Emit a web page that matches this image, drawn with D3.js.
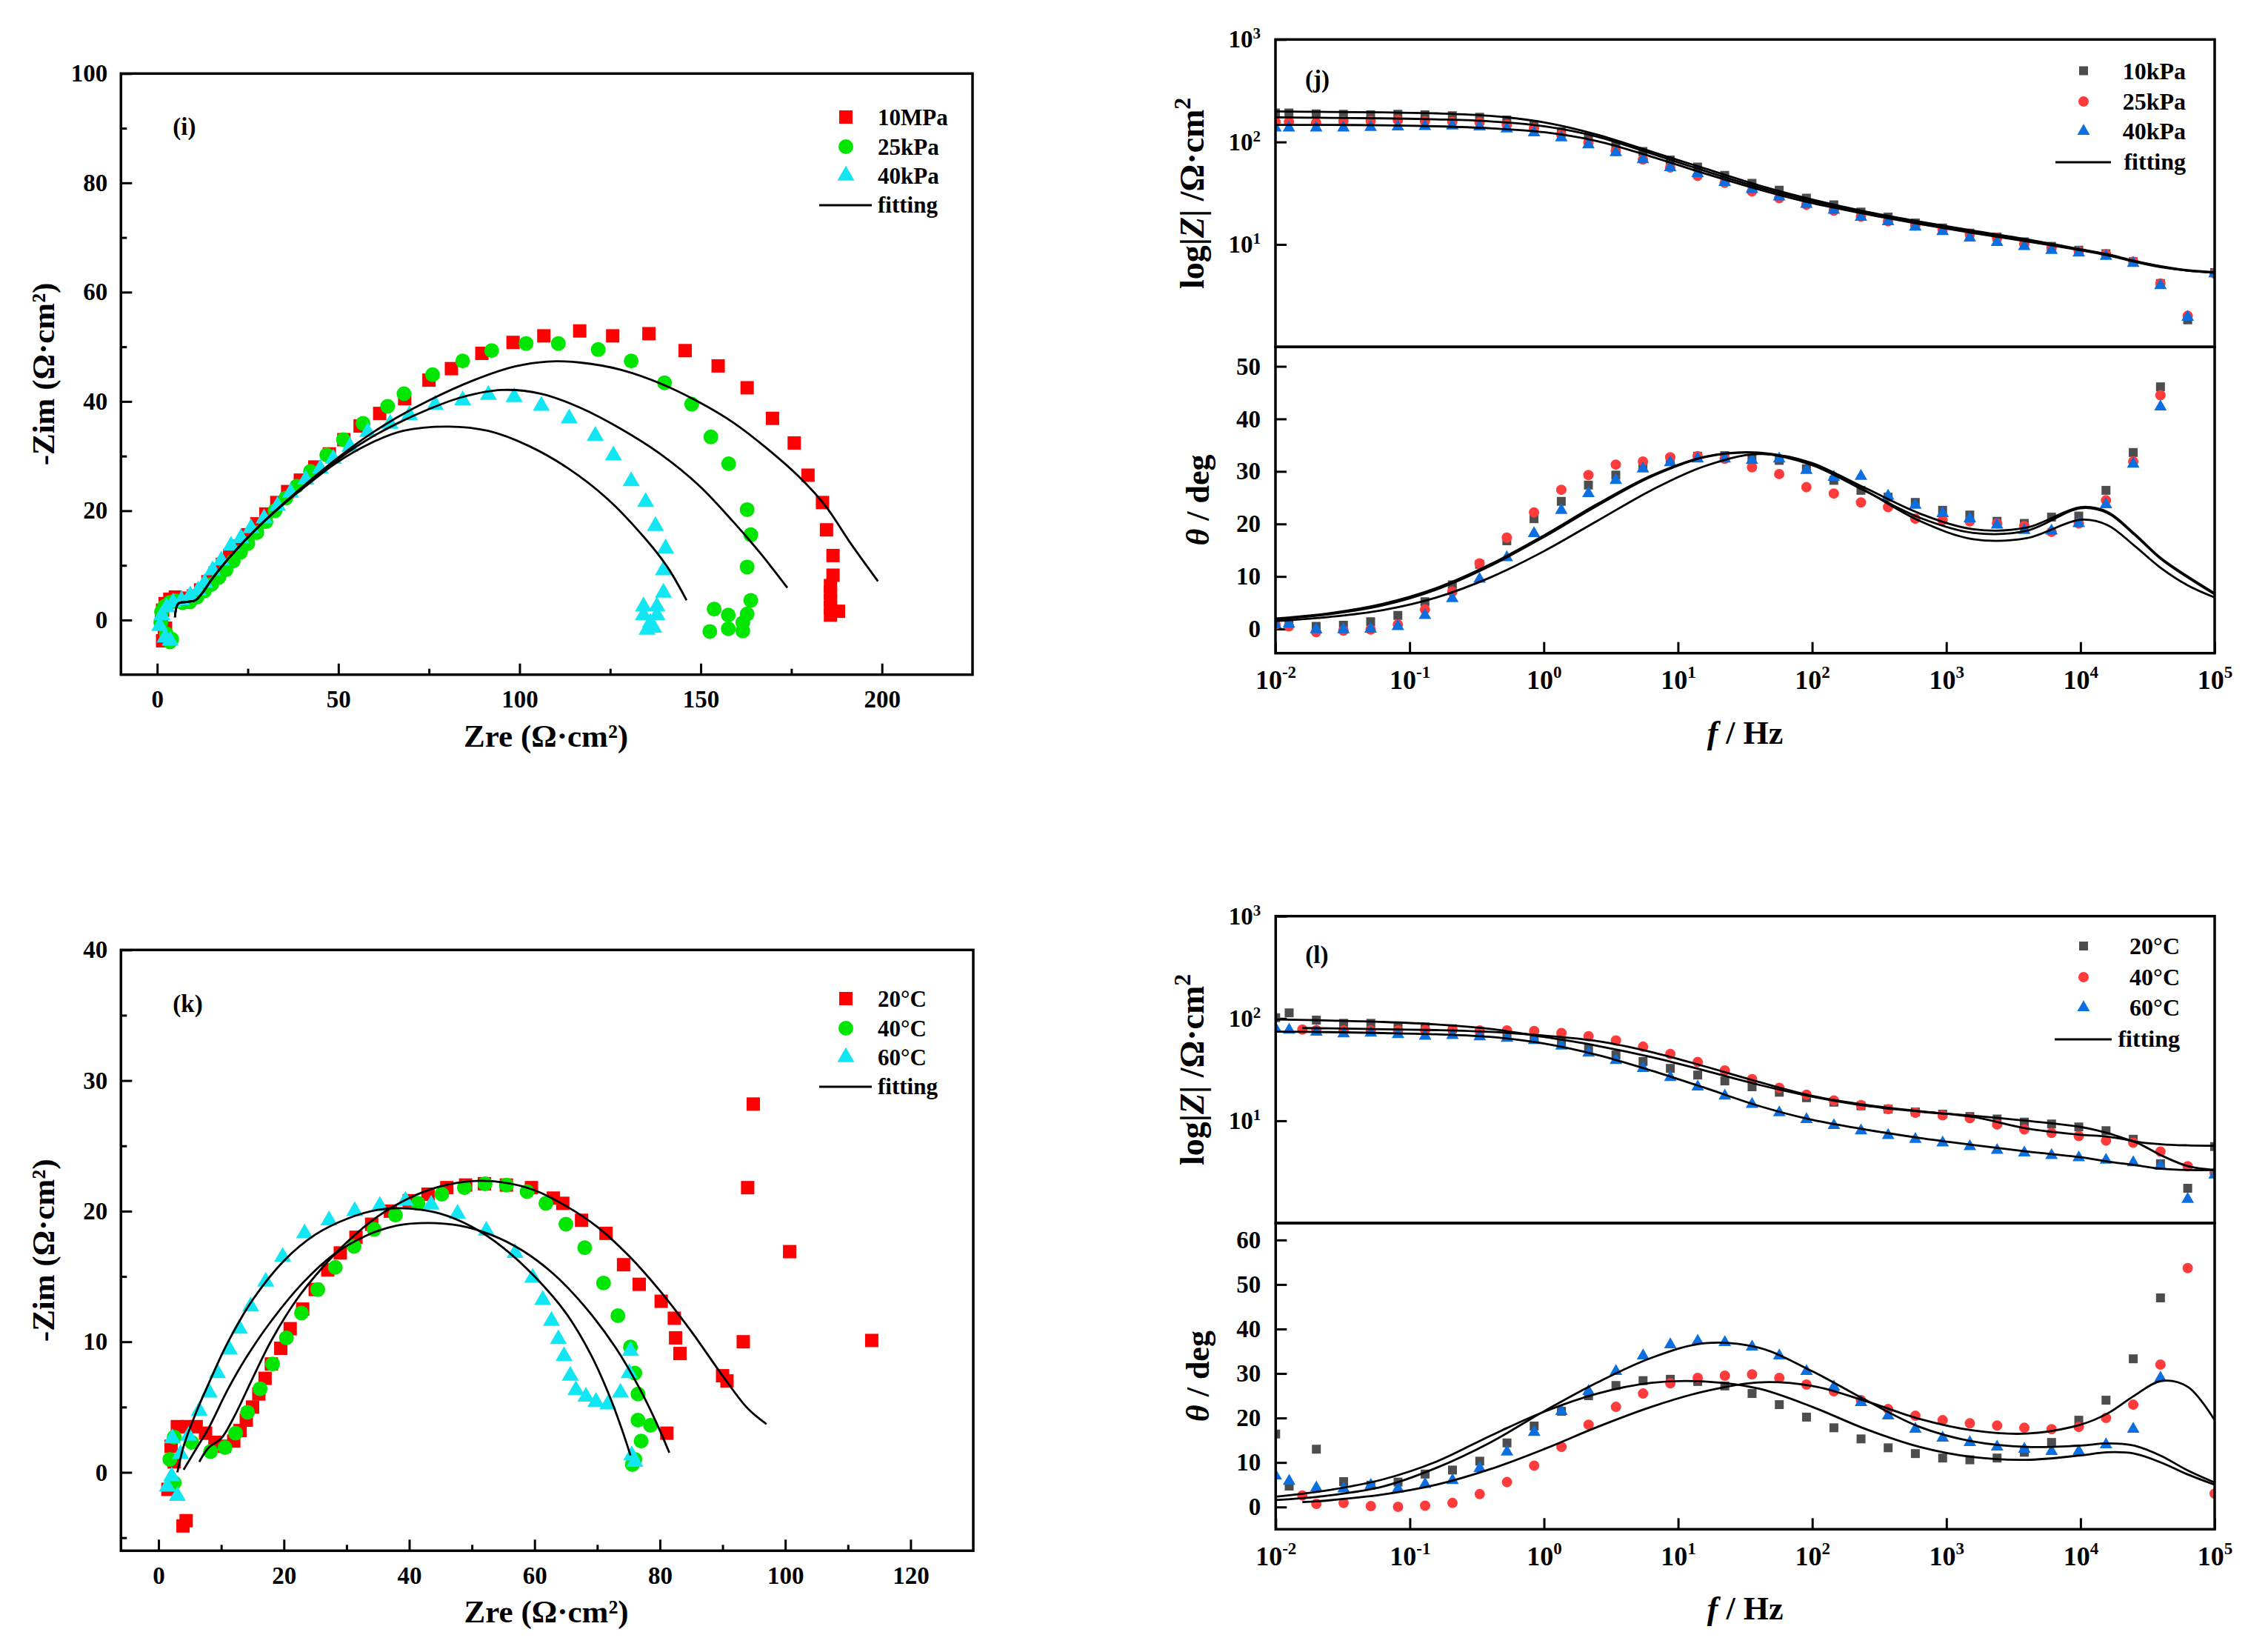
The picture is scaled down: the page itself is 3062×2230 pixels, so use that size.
<!DOCTYPE html>
<html>
<head>
<meta charset="utf-8">
<script src="https://d3js.org/d3.v7.min.js"></script>
<style>
    body { margin: 0; background: #fff; }
    svg { display: block; }
    text { font-family: "Liberation Serif", "Times New Roman", serif; font-weight: bold; fill: #000; }
</style>
</head>
<body>
<svg id="fig" width="3062" height="2230"></svg>
<script>
// ---------- (i) Nyquist, pressure : [Zre, -Zim] ----------
const iNames = ["10MPa", "25kPa", "40kPa"];
const i10MPa = [[1.5,-3.8],[2.0,-3.0],[2.3,-1.5],[1.2,0.2],[1.5,1.8],[2.2,3.0],[3.5,3.8],[5,4.2],[6.5,4.0],[8,3.8],[10,4.4],[12,5.5],[14,7],[16,8.6],[18,10.2],[20,11.8],[22.5,13.5],[25,15.6],[27.5,17.6],[30,19.4],[33,21.5],[36,23.5],[39.5,25.6],[43.5,28],[47.5,30.4],[51.5,33],[56,35.5],[61.4,37.8],[68.3,40.5],[75,43.9],[81.2,46],[89.6,48.8],[98.2,50.8],[106.7,52],[116.6,52.9],[125.7,52],[135.7,52.4],[145.7,49.3],[154.8,46.5],[162.8,42.5],[169.8,36.9],[175.8,32.4],[179.6,26.5],[183.6,21.5],[184.7,16.5],[186.5,11.8],[186.5,8.2],[185.8,6.3],[185.8,5.0],[185.8,3.6],[185.8,2.3],[185.8,0.9],[188,1.6]];
const i25kPa = [[1.0,-0.5],[1.2,1.5],[2.5,-2.5],[3.5,-4],[4,-3.5],[2.0,2.5],[3.5,3.2],[5,3.5],[7,3.2],[9,3.3],[11,4.2],[13,5.3],[15,6.5],[17,7.8],[19,9.2],[21,10.8],[23,12.4],[25,14],[27.5,16],[30,18],[32.5,20],[35.5,22.3],[38.5,24.5],[42.3,27.2],[46.8,30.2],[51.4,33],[56.8,36],[63.6,39.1],[68.1,41.4],[76,44.9],[84.3,47.4],[92.3,49.3],[101.8,50.6],[110.7,50.6],[121.7,49.5],[130.8,47.4],[140,43.4],[147.5,39.5],[152.8,33.5],[157.7,28.6],[162.8,20.2],[163.8,15.6],[162.8,9.7],[163.8,3.6],[162.8,1.1],[161.6,-0.5],[161.6,-2.0],[157.6,-1.6],[157.6,0.9],[153.7,2.0],[152.5,-2.1]];
const i40kPa = [[0.7,-1.1],[2.2,-3.2],[3.6,-3.8],[1.3,0.9],[2.6,2.3],[4.4,3.2],[6.7,3.6],[9.1,4.5],[11.3,5.4],[13.1,6.8],[15.3,9.1],[17.7,10.9],[20.4,13.6],[23.1,15.0],[25.9,16.8],[29.5,18.6],[33.2,20.9],[36.8,23.3],[41,25.7],[45,27.7],[48.6,29.5],[53.2,31.7],[58.1,34.4],[64.3,35.9],[69.6,37.5],[76.7,39.4],[84.3,40.2],[91.4,41.2],[98.5,40.8],[106,39.2],[113.7,36.9],[120.9,33.7],[125.9,30.1],[130.8,25.4],[134.8,21.6],[137.5,17.2],[140.3,13.1],[139.7,9.1],[139.7,5],[137.9,2.5],[134.2,2.5],[134.2,0.9],[137.9,0.9],[136.1,-0.5],[135.2,-1.8],[137,-1.4]];
const iFit10MPa = [[4.9,0.5],[5.8,3.0],[8,3.3],[10.5,3.6],[12.5,5.0],[15,7.4],[20.4,11.8],[27.7,16.9],[35,21.4],[42.3,25.6],[49.5,29.5],[57,33.2],[66,37.0],[75,40.2],[87.8,44.0],[98.7,46.4],[107.8,47.3],[116.9,47.1],[127.9,45.8],[138.8,43.3],[149.7,39.8],[158.8,36.2],[167.9,31.6],[177,26.3],[184.3,21.0],[191.6,13.8],[198.9,7.1]];
const iFit25kPa = [[4.9,0.5],[5.8,3.0],[8,3.3],[10.5,3.6],[12.5,5.0],[15,7.4],[20.4,11.8],[27.7,16.9],[35,21.4],[42.3,25.4],[49.5,29.2],[57,32.6],[66,35.9],[75,38.6],[84.2,40.8],[95.1,42.1],[106,41.4],[116.9,38.8],[127.9,35.0],[138.8,30.4],[149.7,24.5],[158.8,18.1],[166.1,12.5],[173.9,5.9]];
const iFit40kPa = [[4.9,0.5],[5.8,3.0],[8,3.3],[10.5,3.6],[12.5,5.0],[15,7.4],[20.4,11.8],[27.7,16.9],[35,21.3],[42.3,25.2],[49.5,28.8],[58.7,32.3],[67.8,34.6],[80.5,35.4],[91.4,34.6],[102.4,31.9],[113.3,27.8],[124.2,22.2],[135.2,14.5],[141,9.5],[146.1,3.6]];
const iXTicks = [0, 50, 100, 150, 200], iXMinor = [25, 75, 125, 175];
const iYTicks = [0, 20, 40, 60, 80, 100], iYMinor = [10, 30, 50, 70, 90];

// ---------- (k) Nyquist, temperature : [Zre, -Zim] ----------
const kNames = ["20°C", "40°C", "60°C"];
const k20 = [[2,2],[2.5,0.8],[1.5,-1.3],[4.4,-3.7],[3.9,-4.1],[3,3.5],[4.5,3.5],[6,3.5],[7.5,3],[9,2.3],[10.5,2],[12,2.4],[13,3.2],[14,4],[15,5],[16,6],[17,7.2],[18,8.3],[19.5,9.5],[21,11],[23,12.5],[25,14],[27,15.5],[29,16.8],[31.5,18],[34,19],[37,20],[40,20.8],[43,21.3],[46,21.8],[49,22],[52,22.1],[55.5,22],[59.5,21.8],[63,21],[64.5,20.6],[67.5,19.3],[71.4,18.3],[74.2,15.9],[76.7,14.4],[80.2,13.1],[82.3,11.8],[82.5,10.3],[83.2,9.1],[81.1,3.0],[90,7.4],[90.7,7.0],[93.3,10.0],[94.0,21.8],[94.9,28.2],[100.7,16.9],[113.8,10.1]];
const k40 = [[2.5,-0.8],[1.8,1.0],[2.5,2.7],[5.3,2.3],[8.3,1.6],[10.6,1.9],[12.3,3.0],[14.2,4.6],[16.2,6.4],[18.2,8.3],[20.4,10.3],[22.8,12.2],[25.4,14.0],[28.2,15.7],[31.2,17.3],[34.4,18.6],[37.8,19.7],[41.4,20.6],[45.2,21.3],[48.8,21.8],[52.1,22.1],[55.5,22.0],[58.8,21.5],[61.8,20.6],[65,19],[68,17.2],[71,14.5],[73.3,12],[75.3,9.6],[76,7.6],[76.5,6],[76.5,4],[77,2.4],[75.6,0.6],[76,1],[78.5,3.6]];
const k60 = [[2.1,-0.3],[1.4,-1.1],[3.0,-1.8],[2.2,2.6],[3.5,1.4],[4.8,2.8],[6.5,4.7],[8.1,6.1],[9.4,7.6],[11.3,9.4],[12.9,11],[14.7,12.7],[17.1,14.6],[19.8,16.5],[23.3,18.3],[27.2,19.3],[31.3,20],[35.3,20.4],[39.4,20.8],[43.5,20.5],[47.7,19.8],[52.3,18.5],[56.9,16.8],[59.7,14.9],[61.3,13.2],[62.7,11.6],[63.8,10.2],[64.7,8.9],[65.7,7.4],[66.6,6.3],[68.2,5.8],[69.8,5.4],[71.7,5.2],[73.7,6.1],[75.1,7.6],[75.3,9.3],[76,0.8],[75.5,1.3]];
const kFit20 = [[6.5,0.8],[8,1.9],[10,2.6],[12,4.2],[15,7.2],[18,10.1],[22,13.2],[26,15.6],[30,17.6],[35,19.6],[40,21],[45,21.9],[50,22.3],[55,22.2],[60,21.6],[65,20.4],[70,18.8],[75,16.6],[80,13.9],[85,10.8],[90,7.4],[94,4.9],[97,3.7]];
const kFit40 = [[4,0.2],[6,1.8],[8,3.4],[11,6.3],[14,8.8],[18,11.6],[23,14.5],[28,16.7],[33,18.1],[38,18.9],[43,19.1],[48,18.9],[53,18.2],[58,17.0],[63,15.2],[68,12.7],[73,9.5],[77,6.2],[80,3.2],[81.5,1.5]];
const kFit60 = [[3,0],[4,2],[6,4.6],[8,6.8],[11,9.9],[15,13.2],[20,16.2],[25,18.2],[30,19.4],[35,20.1],[40,20.2],[45,19.8],[50,18.8],[55,17.2],[60,15.0],[65,12.2],[69,9.0],[72,5.8],[74,3.2],[75.3,1.3]];
const kXTicks = [0, 20, 40, 60, 80, 100, 120], kXMinor = [10, 30, 50, 70, 90, 110];
const kYTicks = [0, 10, 20, 30, 40], kYMinor = [-5, 5, 15, 25, 35];

// ---------- (j) Bode, pressure ----------
const jNames = ["10kPa", "25kPa", "40kPa"];
const jFreq = [0.01, 0.0126, 0.0201, 0.0321, 0.0512, 0.0817, 0.130, 0.208, 0.332, 0.530, 0.845, 1.35, 2.15, 3.44, 5.48, 8.75, 14.0, 22.3, 35.6, 56.8, 90.6, 145, 231, 368, 587, 938, 1496, 2388, 3811, 6081, 9705, 15488, 24717, 39446, 62951, 100000];
const jZ10 = [192, 192, 188, 186, 184, 186, 184, 180, 174, 164, 147, 126, 111, 92, 80.6, 66.6, 57, 47.2, 39.5, 33.8, 28.3, 24.4, 20.7, 18.5, 16.2, 14.5, 12.9, 11.8, 10.6, 9.59, 8.77, 8.11, 6.79, 4.16, 1.84, 5.31];
const jZ25 = [157, 157, 154, 159, 161, 163, 159, 157, 155, 147, 136, 118, 98.4, 81.5, 67.4, 56.4, 46.7, 39.9, 33.0, 28.3, 24.4, 21.4, 18.7, 16.9, 15.3, 14.0, 12.7, 11.6, 10.1, 9.17, 8.58, 8.02, 6.79, 4.16, 2.01, 5.19];
const jZ40 = [137.5, 137.5, 137.5, 137.5, 139, 140.6, 142.2, 143.8, 140.6, 134.5, 123, 110, 94.2, 78.8, 67.4, 56.4, 49.3, 40.4, 34.5, 29.2, 24.7, 21.6, 18.5, 16.7, 14.8, 13.4, 11.6, 10.5, 9.59, 8.77, 8.29, 7.67, 6.56, 3.97, 1.95, 5.19];
const jTh10 = [1.0, 1.1, 0.5, 0.7, 1.4, 2.6, 5.2, 8.4, 12.3, 16.8, 21.0, 24.3, 27.4, 29.3, 31.2, 32.4, 32.9, 33.0, 32.4, 32.1, 30.5, 28.3, 26.4, 25.1, 24.1, 22.6, 21.7, 20.5, 20.1, 21.3, 21.5, 26.4, 33.6, 46.1, null, null];
const jTh25 = [0.85, 0.5, -0.6, -0.3, -0.1, 0.85, 3.7, 7.1, 12.5, 17.4, 22.2, 26.5, 29.3, 31.3, 31.9, 32.7, 32.9, 32.4, 30.8, 29.5, 27.0, 25.8, 24.1, 23.2, 21.0, 20.7, 20.5, 20.1, 19.6, 18.5, 20.1, 24.5, 31.9, 44.5, null, null];
const jTh40 = [0.85, 0.95, -0.1, -0.1, 0, 0.5, 2.6, 5.8, 9.5, 13.6, 18.2, 22.6, 25.8, 28.3, 30.5, 31.7, 32.4, 32.4, 32.1, 32.4, 30.2, 28.9, 29.1, 25.3, 23.6, 22.0, 21.0, 19.8, 18.8, 18.7, 20.1, 23.7, 31.4, 42.3, null, null];
const fitFreq = [0.01, 0.0251, 0.0631, 0.158, 0.398, 1, 2.51, 6.31, 15.8, 39.8, 100, 251, 631, 1585, 3981, 10000, 15849, 25119, 39811, 63096, 100000];
const jFitZ10 = [198.6, 196.4, 194.4, 190.2, 179.8, 155.6, 117.8, 80.6, 55.2, 37.8, 27.4, 20.9, 16.7, 13.6, 11.2, 8.97, 8.02, 6.93, 6.14, 5.61, 5.37];
const jFitZ25 = [173.9, 171.9, 170, 166.2, 159.0, 142.2, 112.5, 77.1, 52.2, 36.1, 26.4, 20.5, 16.4, 13.2, 11.0, 8.87, 7.93, 6.86, 6.07, 5.55, 5.31];
const jFitZ40 = [146.8, 146.8, 145.4, 142.2, 136, 124.5, 101.8, 72.1, 49.3, 34.5, 25.3, 19.8, 15.8, 12.9, 10.7, 8.77, 7.84, 6.79, 6.0, 5.55, 5.31];
const jFitTh10 = [2.0, 3.0, 4.8, 7.8, 12.3, 17.8, 23.8, 29.2, 32.8, 33.6, 31.5, 26.8, 22.0, 19.0, 19.3, 23.2, 22.3, 18.2, 13.5, 10.0, 6.8];
const jFitTh25 = [1.8, 2.8, 4.5, 7.5, 12.0, 17.5, 23.5, 29.0, 32.7, 33.5, 31.2, 26.2, 21.2, 18.3, 18.7, 23.0, 22.1, 18.0, 13.3, 9.8, 6.6];
const jFitTh40 = [1.5, 2.3, 3.6, 6.0, 9.8, 14.8, 20.6, 26.4, 31.0, 33.3, 31.6, 26.3, 20.6, 17.1, 17.3, 20.8, 19.8, 15.9, 11.6, 8.3, 6.0];
const jThTicks = [0, 10, 20, 30, 40, 50];

// ---------- (l) Bode, temperature ----------
const lNames = ["20°C", "40°C", "60°C"];
const lFreq = jFreq;
const lFreq40 = [0.0158, 0.0201, 0.0321, 0.0512, 0.0817, 0.130, 0.208, 0.332, 0.530, 0.845, 1.35, 2.15, 3.44, 5.48, 8.75, 14.0, 22.3, 35.6, 56.8, 90.6, 145, 231, 368, 587, 938, 1496, 2388, 3811, 6081, 9705, 15488, 24717, 39446, 62951, 100000];
const lZ20 = [101.7, 113.5, 96.2, 89.6, 89.6, 83.8, 82.4, 79.3, 75.0, 71.0, 65.3, 59, 51, 44, 38, 32.5, 28, 24.5, 21.5, 19, 16.8, 15.2, 14, 13, 12.2, 11.6, 11.0, 10.4, 9.7, 9.3, 8.7, 8.0, 6.6, 3.8, 2.19, 5.6];
const lZ40 = [78, 77.1, 76.3, 76.3, 76.3, 77.1, 78, 76.3, 76.3, 75.5, 72, 67, 61, 53, 45, 37.5, 31, 25.5, 21, 18, 15.8, 14.2, 13, 12, 11.3, 10.6, 9.2, 8.24, 7.6, 7.1, 6.4, 6.1, 5.0, 3.6, 3.1];
const lZ60 = [79.3, 77.1, 73.8, 71.0, 72.2, 69.8, 67.2, 68.3, 66.5, 64.3, 61.2, 54, 46, 39, 32.5, 26.5, 21.5, 17.5, 14.5, 12, 10.3, 9.0, 8.0, 7.2, 6.6, 6.1, 5.6, 5.15, 4.87, 4.6, 4.36, 4.13, 3.9, 3.6, 1.71, 2.96];
const lTh20 = [16.4, 4.7, 13.0, 5.7, 4.9, 5.6, 7.4, 8.3, 10.3, 14.4, 18.2, 21.5, 25, 27.3, 28.4, 28.7, 28.2, 27.2, 25.5, 23, 20.2, 17.8, 15.3, 13.3, 12, 11, 10.6, 11, 12.3, 14.5, 19.5, 24, 33.3, 47, null, null];
const lTh40 = [2.6, 0.7, 0.9, 0.2, 0.05, 0.3, 0.9, 2.9, 5.6, 9.3, 13.5, 18.5, 22.5, 25.5, 27.8, 29, 29.5, 29.8, 29, 27.5, 26, 24, 22, 20.5, 19.5, 18.8, 18.3, 17.8, 17.5, 18, 20, 23, 32, 53.7, 3];
const lTh60 = [7.0, 5.8, 4.3, 4.1, 4.9, 4.1, 5.1, 6.0, 8.7, 12.4, 16.8, 21.5, 26, 30.5, 34, 36.5, 37.3, 37, 36, 34, 30.5, 27, 23.5, 20.5, 17.5, 15.5, 14.5, 13.5, 13, 12.5, 12.5, 14, 17.5, 29, null, null];
const fitFreq40 = [0.0158, 0.0251, 0.0631, 0.158, 0.398, 1, 2.51, 6.31, 15.8, 39.8, 100, 251, 631, 1585, 3981, 10000, 15849, 25119, 39811, 63096, 100000];
const lFitZ20 = [97.8, 95.5, 92.5, 87.5, 79, 66, 54, 42, 31, 22.5, 17.2, 14, 12.3, 11.2, 10.0, 8.7, 7.6, 6.3, 5.9, 5.75, 5.7];
const lFitZ40 = [80.6, 80, 78.5, 77, 74, 68, 60, 47, 34, 24, 17.5, 14.3, 12.4, 10.9, 8.4, 7.3, 7.0, 6.25, 4.6, 3.6, 3.3];
const lFitZ60 = [74.3, 73.5, 72, 70, 66, 57, 44, 31, 21, 14, 10.2, 8.2, 6.8, 5.8, 5.0, 4.4, 4.0, 3.7, 3.4, 3.3, 3.3];
const lFitTh20 = [2.3, 3.8, 6.2, 10.2, 16.0, 21.4, 25.5, 27.9, 28.2, 26.6, 22.5, 17.5, 13.5, 11.2, 10.6, 11.6, 12.3, 12.0, 10.0, 7.3, 5.0];
const lFitTh40 = [1.1, 1.5, 2.8, 5.0, 8.5, 13.0, 18.0, 22.5, 26.0, 28.0, 27.2, 23.8, 19.8, 17.2, 16.5, 18.5, 21.0, 25.0, 28.3, 27.0, 19.5];
const lFitTh60 = [1.55, 2.6, 4.6, 8.8, 14.5, 21.5, 28, 33.5, 36.8, 35.8, 30.5, 24.0, 18.0, 14.7, 13.5, 13.8, 14.3, 13.8, 11.5, 8.2, 5.5];
const lThTicks = [0, 10, 20, 30, 40, 50, 60];

const decades = [1e-2, 1e-1, 1e0, 1e1, 1e2, 1e3, 1e4, 1e5];
const zTicks = [10, 100, 1000];

// ---------- drawing ----------
const svg = d3.select("#fig");
const RED = "#ff0000", GREEN = "#00e600", CYAN = "#12e6f2";
const GRAY = "#4d4d4d", PINK = "#ff3b3b", BLUE = "#0b6fe0";
const bigSym = {sq: 324, ci: 314, tr: 230};
const smallSym = {sq: 144, ci: 154, tr: 125};

function tidy(g, fs) {
    g.select(".domain").remove();
    g.selectAll(".tick line").attr("stroke", "#000").attr("stroke-width", 3);
    g.selectAll(".tick text").style("font-size", (fs || 33) + "px");
}

function powLabels(g, sup, shift) {
    g.selectAll(".tick text").each(function(d) {
        const t = d3.select(this).text(null);
        t.append("tspan").text("10");
        t.append("tspan").attr("dy", -shift).style("font-size", sup + "px").text(Math.round(Math.log10(d)));
    });
}

function dots(g, pts, x, y, shape, size, color) {
    g.append("g").selectAll("path").data(pts).enter().append("path")
        .attr("transform", d => `translate(${x(d[0])},${y(d[1])})`)
        .attr("d", d3.symbol().type(shape).size(size))
        .attr("fill", color);
}

function fitPath(g, pts, x, y) {
    const line = d3.line().x(d => x(d[0])).y(d => y(d[1])).curve(d3.curveCatmullRom.alpha(0.5));
    g.append("path").attr("d", line(pts)).attr("fill", "none")
        .attr("stroke", "#000").attr("stroke-width", 2.8);
}

const zip = (f, v) => f.map((d, i) => [d, v[i]]).filter(d => d[1] != null);

function nyquist(p) {
    const g = svg.append("g").attr("transform", `translate(${p.x},${p.y})`);
    const x = d3.scaleLinear().domain(p.xd).range([0, p.w]);
    const y = d3.scaleLinear().domain(p.yd).range([p.h, 0]);

    g.append("g").attr("transform", `translate(0,${p.h})`)
        .call(d3.axisBottom(x).tickValues(p.xMinor).tickSize(-8).tickFormat("")).call(tidy);
    g.append("g").attr("transform", `translate(0,${p.h})`)
        .call(d3.axisBottom(x).tickValues(p.xTicks).tickSize(-15).tickPadding(21)).call(tidy);
    g.append("g").call(d3.axisLeft(y).tickValues(p.yMinor).tickSize(-8).tickFormat("")).call(tidy);
    g.append("g").call(d3.axisLeft(y).tickValues(p.yTicks).tickSize(-15).tickPadding(18)).call(tidy);

    dots(g, p.data[0], x, y, d3.symbolSquare, bigSym.sq, RED);
    dots(g, p.data[1], x, y, d3.symbolCircle, bigSym.ci, GREEN);
    dots(g, p.data[2], x, y, d3.symbolTriangle, bigSym.tr, CYAN);
    p.fits.forEach(f => fitPath(g, f, x, y));

    g.append("rect").attr("width", p.w).attr("height", p.h)
        .attr("fill", "none").attr("stroke", "#000").attr("stroke-width", 3.5);

    g.append("text").attr("x", p.w / 2 - 1).attr("y", p.h + 97)
        .attr("text-anchor", "middle").style("font-size", "43px").text("Zre (Ω·cm²)");
    g.append("text").attr("transform", `translate(-90,${p.h / 2}) rotate(-90)`)
        .attr("text-anchor", "middle").style("font-size", "43px").text("-Zim (Ω·cm²)");
    g.append("text").attr("x", 70).attr("y", p.tagY).style("font-size", "33px").text(p.tag);
}

function bode(p) {
    const g = svg.append("g").attr("transform", `translate(${p.x},${p.y})`);
    const x = d3.scaleLog().domain([1e-2, 1e5]).range([0, p.w]);
    const yZ = d3.scaleLog().domain([1, 1000]).range([p.hTop, 0]);
    const yT = d3.scaleLinear().domain(p.thd).range([p.hBot, 0]);
    const top = g.append("g");
    const bot = g.append("g").attr("transform", `translate(0,${p.hTop})`);

    top.append("clipPath").attr("id", p.id + "a").append("rect").attr("width", p.w).attr("height", p.hTop);
    bot.append("clipPath").attr("id", p.id + "b").append("rect").attr("width", p.w).attr("height", p.hBot);

    // axes, ticks pointing inward
    top.append("g").call(d3.axisLeft(yZ).tickValues(zTicks).tickSize(-15).tickPadding(20))
        .call(tidy).call(powLabels, 21, 12);
    bot.append("g").call(d3.axisLeft(yT).tickValues(p.thTicks).tickSize(-15).tickPadding(20)).call(tidy);
    bot.append("g").attr("transform", `translate(0,${p.hBot})`)
        .call(d3.axisBottom(x).tickValues(decades).tickSize(-15).tickPadding(23))
        .call(g => tidy(g, 36)).call(powLabels, 23, 15);

    const pz = top.append("g").attr("clip-path", `url(#${p.id}a)`);
    const pt = bot.append("g").attr("clip-path", `url(#${p.id}b)`);
    const shapes = [d3.symbolSquare, d3.symbolCircle, d3.symbolTriangle];
    const sizes = [smallSym.sq, smallSym.ci, smallSym.tr];
    const colors = [GRAY, PINK, BLUE];
    p.z.forEach((s, k) => dots(pz, zip(p.freqs[k], s), x, yZ, shapes[k], sizes[k], colors[k]));
    p.th.forEach((s, k) => dots(pt, zip(p.freqs[k], s), x, yT, shapes[k], sizes[k], colors[k]));
    p.fitZ.forEach((s, k) => fitPath(pz, zip(p.fitFreqs[k], s), x, yZ));
    p.fitTh.forEach((s, k) => fitPath(pt, zip(p.fitFreqs[k], s), x, yT));

    top.append("rect").attr("width", p.w).attr("height", p.hTop)
        .attr("fill", "none").attr("stroke", "#000").attr("stroke-width", 3.5);
    bot.append("rect").attr("width", p.w).attr("height", p.hBot)
        .attr("fill", "none").attr("stroke", "#000").attr("stroke-width", 3.5);

    // titles
    const t1 = top.append("text").attr("transform", `translate(-97,${p.hTop / 2}) rotate(-90)`)
        .attr("text-anchor", "middle").style("font-size", "46px");
    t1.append("tspan").text("log|");
    t1.append("tspan").style("font-style", "italic").text("Z");
    t1.append("tspan").text("| /Ω·cm");
    t1.append("tspan").attr("dy", -18).style("font-size", "32px").text("2");
    const t2 = bot.append("text").attr("transform", `translate(-90,${p.hBot / 2}) rotate(-90)`)
        .attr("text-anchor", "middle").style("font-size", "44px");
    t2.append("tspan").style("font-style", "italic").text("θ");
    t2.append("tspan").text(" / deg");
    const t3 = bot.append("text").attr("x", p.w / 2).attr("y", p.hBot + 122)
        .attr("text-anchor", "middle").style("font-size", "44px");
    t3.append("tspan").style("font-style", "italic").text("f");
    t3.append("tspan").text(" / Hz");
    g.append("text").attr("x", 40).attr("y", p.tagY).style("font-size", "33px").text(p.tag);
}

function legend(L) {
    const g = svg.append("g");
    const shapes = [d3.symbolSquare, d3.symbolCircle, d3.symbolTriangle];
    L.names.forEach((name, k) => {
        g.append("path").attr("transform", `translate(${L.mx},${L.rows[k]})`)
            .attr("d", d3.symbol().type(shapes[k]).size(L.sizes[k])).attr("fill", L.colors[k]);
        g.append("text").attr("x", L.tx).attr("y", L.rows[k] + 11).attr("text-anchor", L.anchor)
            .style("font-size", L.fs + "px").text(name);
    });
    g.append("line").attr("x1", L.lx[0]).attr("x2", L.lx[1]).attr("y1", L.rows[3]).attr("y2", L.rows[3])
        .attr("stroke", "#000").attr("stroke-width", 3);
    g.append("text").attr("x", L.tx).attr("y", L.rows[3] + 10).attr("text-anchor", L.anchor)
        .style("font-size", L.fs + "px").text("fitting");
}

nyquist({x: 163.3, y: 99.3, w: 1149.7, h: 811.4, xd: [-10, 225], yd: [-10, 100],
    xTicks: iXTicks, xMinor: iXMinor, yTicks: iYTicks, yMinor: iYMinor,
    data: [i10MPa, i25kPa, i40kPa], fits: [iFit10MPa, iFit25kPa, iFit40kPa], tag: "(i)", tagY: 83});
nyquist({x: 163.3, y: 1282.3, w: 1150.7, h: 811, xd: [-6, 130], yd: [-6, 40],
    xTicks: kXTicks, xMinor: kXMinor, yTicks: kYTicks, yMinor: kYMinor,
    data: [k20, k40, k60], fits: [kFit20, kFit40, kFit60], tag: "(k)", tagY: 84});

bode({id: "j", x: 1722, y: 53.3, w: 1268, hTop: 415, hBot: 413.4, thd: [-4.6, 53.7], thTicks: jThTicks,
    freqs: [jFreq, jFreq, jFreq], z: [jZ10, jZ25, jZ40], th: [jTh10, jTh25, jTh40],
    fitFreqs: [fitFreq, fitFreq, fitFreq], fitZ: [jFitZ10, jFitZ25, jFitZ40], fitTh: [jFitTh10, jFitTh25, jFitTh40],
    tag: "(j)", tagY: 65});
bode({id: "l", x: 1722.3, y: 1236.7, w: 1267.7, hTop: 414.3, hBot: 413.3, thd: [-5, 63.8], thTicks: lThTicks,
    freqs: [lFreq, lFreq40, lFreq], z: [lZ20, lZ40, lZ60], th: [lTh20, lTh40, lTh60],
    fitFreqs: [fitFreq, fitFreq40, fitFreq], fitZ: [lFitZ20, lFitZ40, lFitZ60], fitTh: [lFitTh20, lFitTh40, lFitTh60],
    tag: "(l)", tagY: 63});

legend({names: iNames, mx: 1142, rows: [158, 198, 237, 277], tx: 1185, anchor: "start", fs: 31,
    lx: [1106, 1177], sizes: [bigSym.sq, bigSym.ci, bigSym.tr], colors: [RED, GREEN, CYAN]});
legend({names: kNames, mx: 1142, rows: [1348, 1388, 1427, 1467], tx: 1185, anchor: "start", fs: 31,
    lx: [1106, 1177], sizes: [bigSym.sq, bigSym.ci, bigSym.tr], colors: [RED, GREEN, CYAN]});
legend({names: jNames, mx: 2813, rows: [95.5, 137, 177, 219], tx: 2951, anchor: "end", fs: 32,
    lx: [2775, 2850], sizes: [smallSym.sq, smallSym.ci, smallSym.tr], colors: [GRAY, PINK, BLUE]});
legend({names: lNames, mx: 2813, rows: [1277, 1319, 1360, 1403], tx: 2943, anchor: "end", fs: 32,
    lx: [2774, 2851], sizes: [smallSym.sq, smallSym.ci, smallSym.tr], colors: [GRAY, PINK, BLUE]});
</script>
</body>
</html>
